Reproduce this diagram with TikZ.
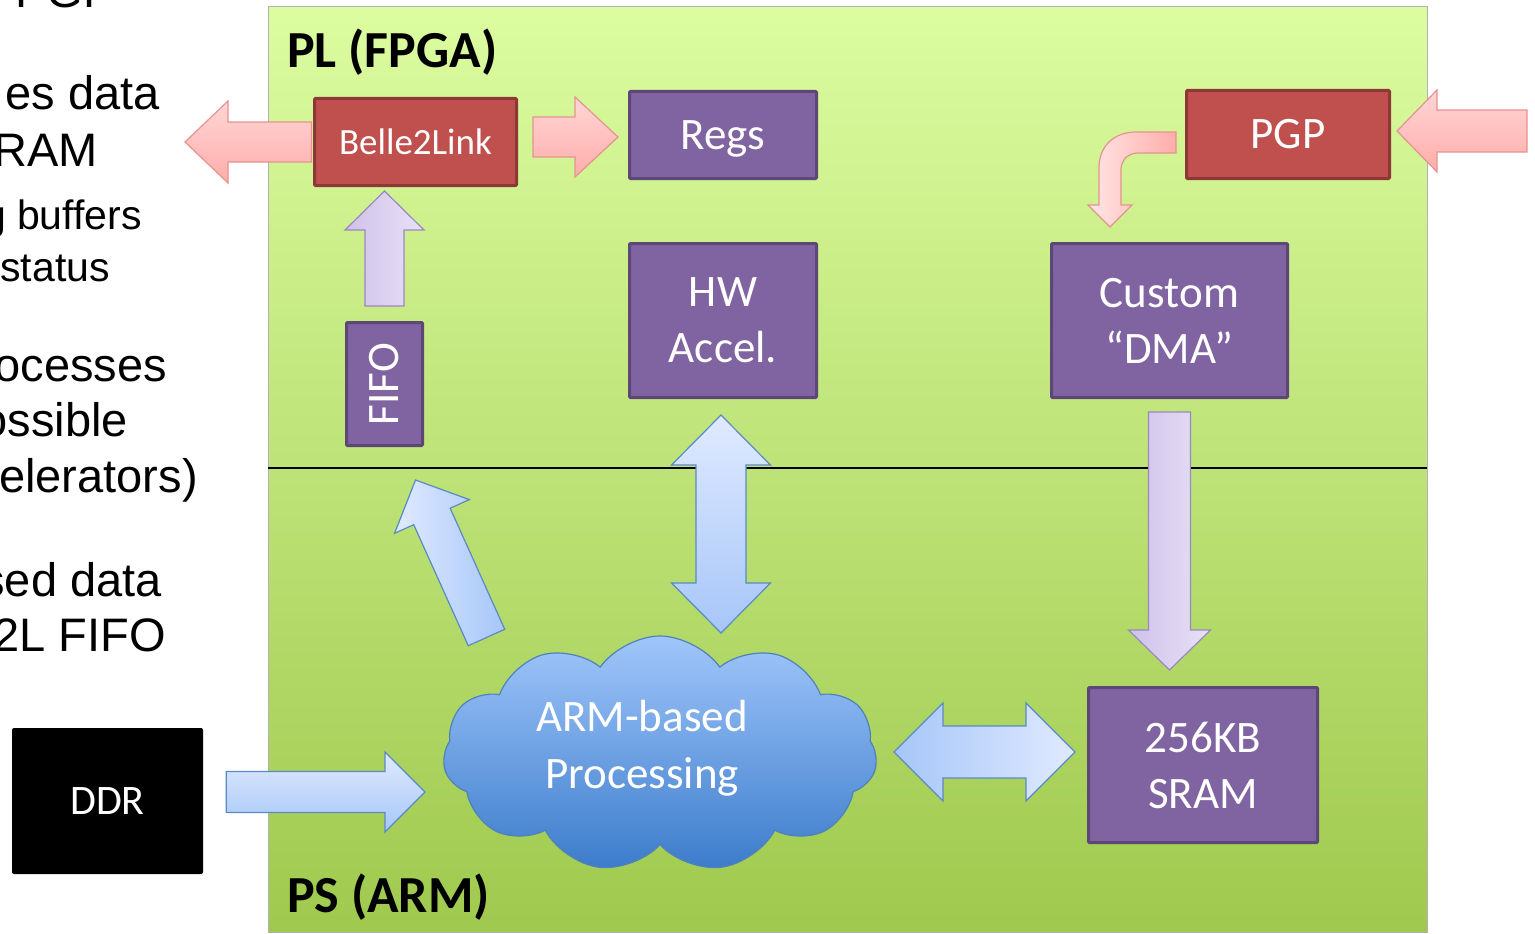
\documentclass[tikz,border=0pt]{standalone}
\usepackage{fontspec}
\usepackage{graphicx}
\setmainfont{Carlito}
\newfontfamily\arialfont{Liberation Sans}
\usetikzlibrary{calc,shapes.symbols}

\definecolor{boxpurple}{HTML}{8064A2}
\definecolor{boxpurpleborder}{HTML}{5C4776}
\definecolor{boxred}{HTML}{C0504D}
\definecolor{boxredborder}{HTML}{8C3836}
\definecolor{paneltop}{HTML}{DCFCA0}
\definecolor{panelbot}{HTML}{9FC94E}
\definecolor{pinklight}{HTML}{FFD6D5}
\definecolor{pinkdark}{HTML}{FFADAA}
\definecolor{pinkborder}{HTML}{E59391}
\definecolor{lavlight}{HTML}{E8E1F6}
\definecolor{lavdark}{HTML}{CFC1EA}
\definecolor{lavborder}{HTML}{9A88C0}
\definecolor{bluelight}{HTML}{E0EAFF}
\definecolor{bluedark}{HTML}{A6C6F8}
\definecolor{blueborder}{HTML}{5A8AC6}
\definecolor{cloudtop}{HTML}{A0C6FA}
\definecolor{cloudbot}{HTML}{3C7CCB}
\definecolor{cloudborder}{HTML}{4F81BD}

% block arrow: style, tail, tip, shaft half width, head half width, head length
\newcommand{\blockarrow}[6]{%
  \path #2 coordinate (baA) #3 coordinate (baB);
  \path ($(baB)!#6!(baA)$) coordinate (baH);
  \draw[#1] ($(baA)!#4!90:(baB)$) -- ($(baH)!#4!90:(baB)$) -- ($(baH)!#5!90:(baB)$)
    -- (baB) -- ($(baH)!#5!-90:(baB)$) -- ($(baH)!#4!-90:(baB)$)
    -- ($(baA)!#4!-90:(baB)$) -- cycle;
}
% double block arrow: style, tip A, tip B, shaft half width, head half width, head length
\newcommand{\dblarrow}[6]{%
  \path #2 coordinate (daA) #3 coordinate (daB);
  \path ($(daA)!#6!(daB)$) coordinate (daH1) ($(daB)!#6!(daA)$) coordinate (daH2);
  \draw[#1] (daA) -- ($(daH1)!#5!90:(daB)$) -- ($(daH1)!#4!90:(daB)$)
    -- ($(daH2)!#4!90:(daB)$) -- ($(daH2)!#5!90:(daB)$) -- (daB)
    -- ($(daH2)!#5!-90:(daB)$) -- ($(daH2)!#4!-90:(daB)$)
    -- ($(daH1)!#4!-90:(daB)$) -- ($(daH1)!#5!-90:(daB)$) -- cycle;
}

\tikzset{
  boxbase/.style={line width=3pt, text=white, align=center, inner sep=0pt,
    font=\fontsize{45}{56}\selectfont, rounded corners=1pt},
  purplebox/.style={boxbase, draw=boxpurpleborder, fill=boxpurple},
  redbox/.style={boxbase, draw=boxredborder, fill=boxred},
  pinkarrow/.style={draw=pinkborder, line width=1.2pt, line join=miter},
  lavarrow/.style={draw=lavborder, line width=1.2pt, line join=miter},
  bluearrow/.style={draw=blueborder, line width=1.2pt, line join=miter},
  sidetext/.style={anchor=base east, inner sep=0pt, font=\arialfont\fontsize{47}{50}\selectfont},
  smalltext/.style={anchor=base east, inner sep=0pt, font=\arialfont\fontsize{41}{44}\selectfont},
  paneltitle/.style={anchor=base west, inner sep=0pt, font=\bfseries\fontsize{52}{60}\selectfont}
}

\begin{document}
\begin{tikzpicture}[x=1pt,y=-1pt]
\useasboundingbox (0,0) rectangle (1535,934);
\clip (0,0) rectangle (1535,934);
\fill[white] (0,0) rectangle (1535,934);

% panel
\shade[top color=paneltop, bottom color=panelbot] (268,7) rectangle (1427,932);
\draw[gray!60, line width=1pt] (268,7) rectangle (1427,932);
\draw[black, line width=1.5pt] (268,468) -- (1427,468);
\node[paneltitle] (pltitle) at (287,67) {PL (FPGA)};
\node[paneltitle] (pstitle) at (287,912) {PS (ARM)};

% left text (cut off by the page edge, as in the reference)
\node[sidetext] (t1) at (115,8) {s PGP};
\node[sidetext] (t2) at (160,110) {es data};
\node[sidetext] (t3) at (98,166) {RAM};
\node[smalltext] (t4) at (142,229) {g buffers};
\node[smalltext] (t5) at (110,281) {status};
\node[sidetext] (t6) at (167,381) {ocesses};
\node[sidetext] (t7) at (128,436) {ossible};
\node[sidetext] (t8) at (198,492) {elerators)};
\node[sidetext] (t9) at (162,596) {sed data};
\node[sidetext] (t10) at (166,651) {2L FIFO};

% nodes
\node[redbox, minimum width=202, minimum height=87, font=\fontsize{37}{44}\selectfont] (b2l) at (415.5,142) {Belle2Link};
\node[purplebox, minimum width=187, minimum height=87, text depth=0pt] (regs) at (723,135) {Regs};
\node[purplebox, minimum width=187, minimum height=154] (hw) at (723,320.5) {HW\\Accel.};
\node[purplebox, minimum width=236, minimum height=154] (dma) at (1169.5,320.5) {Custom\\“DMA”};
\node[redbox, minimum width=203, minimum height=88] (pgp) at (1288,134.5) {PGP};
\node[purplebox, minimum width=76, minimum height=123] (fifo) at (384.5,384) {\rotatebox{90}{FIFO}};
\node[purplebox, minimum width=229, minimum height=155] (sram) at (1203,765) {256KB\\SRAM};
\node[fill=black, rounded corners=2pt, minimum width=191, minimum height=146, text=white,
      font=\fontsize{42}{50}\selectfont] (ddr) at (107.5,801) {DDR};
\node[cloud, cloud puffs=11, cloud puff arc=110, aspect=1.84, minimum width=434, minimum height=236,
      draw=cloudborder, line width=1.2pt, top color=cloudtop, bottom color=cloudbot] (arm) at (660,754) {};
\node[text=white, align=center, inner sep=0pt, font=\fontsize{45}{57}\selectfont] (armtext) at (642,748) {ARM-based\\Processing};

% free ends of arrows
\coordinate (b2lout) at (185,142);
\coordinate (pgpin) at (1527,131);

% arrows
\blockarrow{pinkarrow, top color=pinklight, bottom color=pinkdark}{([xshift=-1.5pt]b2l.west)}{(b2lout)}{20pt}{41pt}{43pt}
\blockarrow{pinkarrow, top color=pinklight, bottom color=pinkdark}{([xshift=15pt]b2l.east |- 0,137)}{([xshift=-10pt]regs.west |- 0,137)}{20pt}{40pt}{43pt}
\blockarrow{pinkarrow, top color=pinklight, bottom color=pinkdark}{(pgpin)}{([xshift=6pt]pgp.east |- 0,131)}{21pt}{41pt}{40pt}
\blockarrow{lavarrow, left color=lavdark, right color=lavlight}{([yshift=15pt]fifo.north)}{([yshift=-4pt]b2l.south -| fifo.north)}{19.5pt}{39.5pt}{39pt}
\blockarrow{lavarrow, left color=lavdark, right color=lavlight}{([yshift=-13pt]dma.south)}{([yshift=16pt]sram.north -| dma.south)}{21pt}{41pt}{40pt}
\blockarrow{bluearrow, left color=bluelight, right color=bluedark}{(486.5,637.5)}{([shift={(31,33)}]fifo.south)}{20pt}{41pt}{40pt}
\blockarrow{bluearrow, top color=bluelight, bottom color=bluedark}{([xshift=23pt]ddr.east |- 0,792)}{(425,792)}{20.5pt}{40pt}{40pt}
\dblarrow{bluearrow, top color=bluelight, bottom color=bluedark}{([yshift=-16pt]hw.south -| 721,0)}{(721,633)}{25pt}{49.5pt}{50pt}
\dblarrow{bluearrow, left color=bluedark, right color=bluelight}{(894,752)}{([xshift=-12pt]sram.west |- 0,752)}{26pt}{49pt}{49pt}

% curved arrow PGP -> Custom DMA
\draw[pinkarrow, left color=pinklight!60!white, right color=pinkdark]
  ([shift={(-9,-2.5)}]pgp.west) -- ++(-40,0)
  .. controls +(-21,0) and +(0,-23) .. ++(-37,36)
  -- ++(0,37) -- ++(-11,0) -- ++(22,22) -- ++(22,-22) -- ++(-11,0) -- ++(0,-35)
  .. controls +(0,-10) and +(-10,0) .. ++(17,-17)
  -- ++(38,0) -- cycle;
\end{tikzpicture}
\end{document}
